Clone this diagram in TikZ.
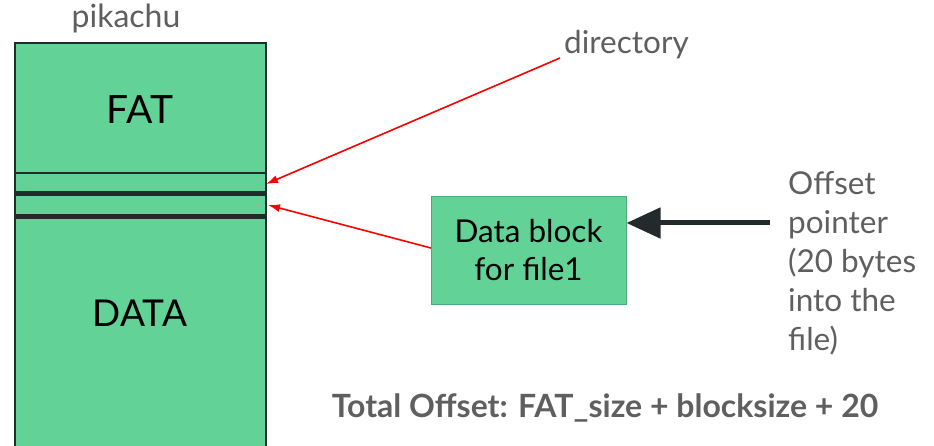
\documentclass[tikz,border=0pt]{standalone}
\usepackage{fontspec}
\setmainfont{Lato}
\usetikzlibrary{arrows.meta}
\definecolor{fillg}{HTML}{62D296}
\definecolor{edge}{HTML}{232A2B}
\definecolor{bedge}{HTML}{4EA97A}
\definecolor{txtgray}{HTML}{5F5F5F}
\tikzset{
  lbl/.style={text=txtgray, inner sep=0pt},
  redarrow/.style={draw=red, line width=1.6pt, -{Latex[length=12pt,width=8pt]}},
  blkarrow/.style={draw=edge, line width=5pt, -{Triangle[length=34pt,width=30pt]}},
}
\begin{document}
\begin{tikzpicture}[x=1pt,y=-1pt]
\useasboundingbox (0,0) rectangle (934,446);
% memory column
\fill[fillg] (15,43) rectangle (266,446);
\draw[edge, line width=1.8pt] (15,446) -- (15,43) -- (266,43) -- (266,446);
\draw[edge, line width=1.8pt] (15,173) -- (266,173);
\draw[edge, line width=4.5pt] (15,193.5) -- (266,193.5);
\draw[edge, line width=4.5pt] (15,216.5) -- (266,216.5);
\coordinate (dirslot) at (266,184);
\coordinate (dataslot) at (268,205);
\node[lbl, font=\fontsize{32}{36}\selectfont] (pik) at (126,18) {pikachu};
\node[inner sep=0pt, font=\fontsize{39}{44}\selectfont] (fat) at (140,110) {FAT};
\node[inner sep=0pt, font=\fontsize{37}{44}\selectfont] (data) at (140,313) {DATA};
% data block
\node[draw=bedge, fill=fillg, line width=1pt, minimum width=195pt, minimum height=107pt, inner sep=0pt,
  align=center, font=\fontsize{31.5}{38}\selectfont] (blk) at (528.5,250.5) {Data block\\for file1};
% labels
\node[lbl, anchor=west, font=\fontsize{31.5}{36}\selectfont] (dir) at (564,45) {directory};
\node[lbl, anchor=north west, align=left, font=\fontsize{31.5}{39}\selectfont] (off) at (788,171) {Offset\\pointer\\(20 bytes\\into the\\file)};
\node[lbl, font=\bfseries\fontsize{32}{36}\selectfont] (tot) at (605,408) {Total Offset: FAT\_size + blocksize + 20};
% arrows
\coordinate (dirstart) at (560,58);
\coordinate (ptrstart) at (770,223);
\draw[redarrow] (dirstart) -- (dirslot);
\draw[redarrow] (431,248) -- (dataslot);
\draw[blkarrow] (ptrstart) -- (blk.east |- ptrstart);
\end{tikzpicture}
\end{document}
